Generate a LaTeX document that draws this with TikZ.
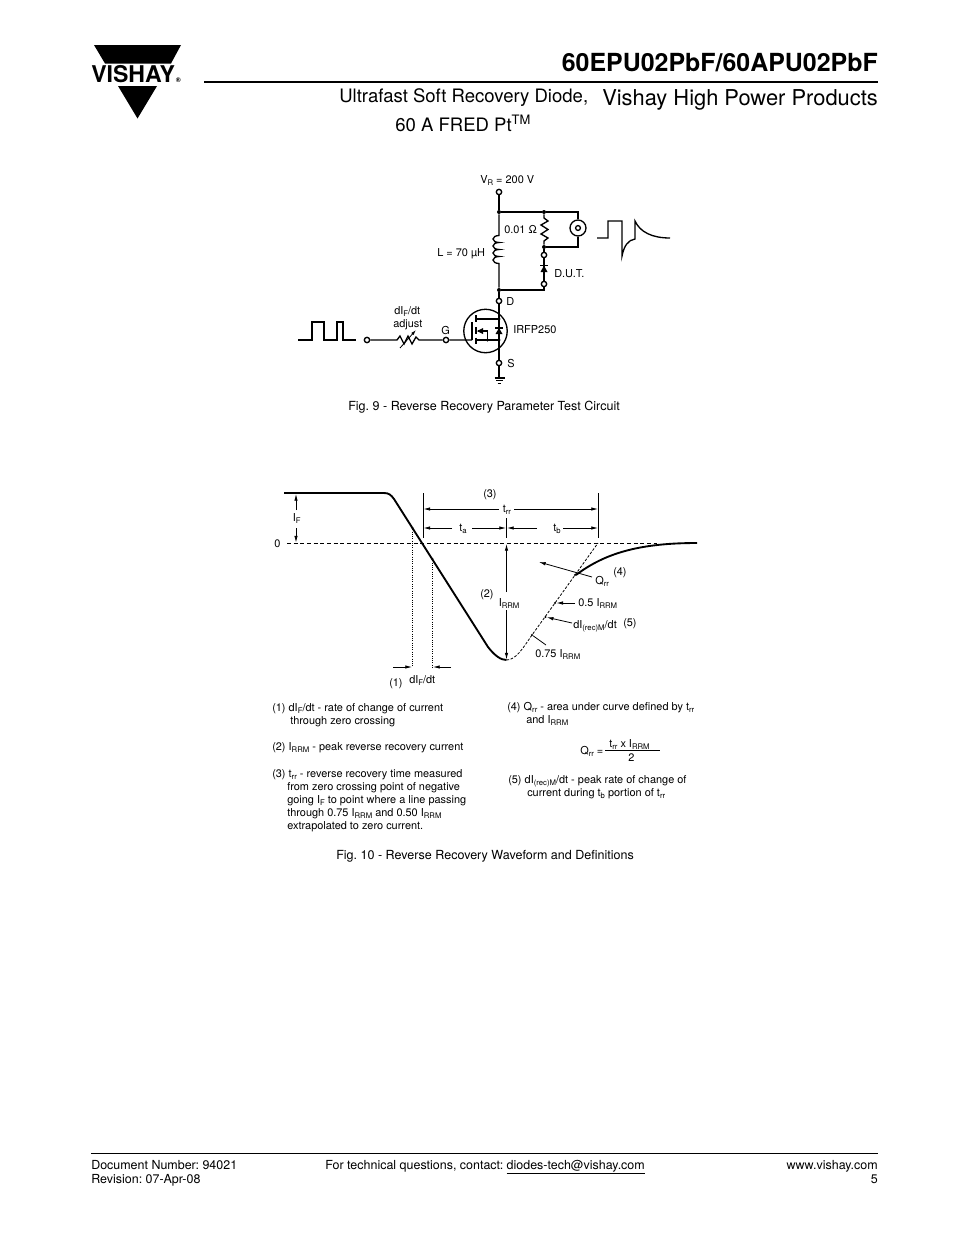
\documentclass[tikz,border=0pt]{standalone}
\usepackage{fontspec}
\setmainfont{TeX Gyre Heros}
\usetikzlibrary{arrows.meta, positioning, calc}

\newcommand{\sub}[1]{\raisebox{-1.7pt}{\fontsize{5.8}{6}\selectfont #1}}
\begin{document}
\frenchspacing
\begin{tikzpicture}[x=0.75pt, y=-0.75pt, font=\fontsize{8.2}{10}\selectfont]
        \tikzstyle{wire} = [line width = 1pt, black]
        \tikzstyle{pin} = [circle, draw = black, fill = white, line width = 1pt, inner sep = 0pt, minimum size = 4pt]
        \tikzstyle{joint} = [circle, fill = black, inner sep = 0pt, minimum size = 3pt]
        \tikzstyle{speck} = [circle, fill = black, inner sep = 0pt, minimum size = 1.6pt]
        \tikzstyle{txt} = [inner sep = 0pt, anchor = base west]
        \tikzstyle{rtxt} = [inner sep = 0pt, anchor = base east]
        \tikzstyle{caption} = [txt, font=\fontsize{9.4}{11}\selectfont]
        \tikzstyle{foot} = [inner sep = 0pt, font=\fontsize{9.35}{11}\selectfont]
        \tikzstyle{thin} = [line width = 0.6pt]
        \tikzstyle{fine dash} = [line width = 0.6pt, dash pattern = on 2pt off 1.2pt]
        \tikzstyle{connect} = [-{Latex[length=5pt, width=2.6pt]}, line width = 0.6pt]
        \useasboundingbox (0,0) rectangle (954,1235);

        % header
        \fill (94,45) -- (181,45) -- (171,63.5) -- (105,63.5) -- cycle;
        \fill (118,86) -- (157,86) -- (137.5,118.5) -- cycle;
        \node[txt, font=\fontsize{17.3}{15}\selectfont\bfseries] (logo) at (91,82) {VISHAY};
        \node[txt, font=\fontsize{5}{6}\selectfont\bfseries] (logoreg) at (175.5,82.5) {®};
        \draw[line width = 1.5pt] (204,81.5) -- (878,81.5);
        \node[rtxt, font=\fontsize{18.7}{20}\selectfont\bfseries] (title) at (878,71.5) {60EPU02PbF/60APU02PbF};
        \node[rtxt, font=\fontsize{16.4}{18}\selectfont] (brand) at (878,105) {Vishay High Power Products};
        \node[txt, font=\fontsize{13.9}{18}\selectfont] (head1) at (339,102) {Ultrafast Soft Recovery Diode,};
        \node[txt, font=\fontsize{13.9}{18}\selectfont] (head2) at (395,131) {60 A FRED Pt\textsuperscript{TM}};

        % test circuit
        \node[pin] (vr) at (499,192) {};
        \node[joint] (top) at (499,212) {};
        \node[joint] (rtop) at (544,212) {};
        \coordinate (scopetop) at (578,212);
        \node[circle, draw, line width = 1pt, minimum size = 12pt, inner sep = 0pt] (scope) at (578,228) {};
        \node[pin, minimum size = 3.6pt] (scopein) at (scope) {};
        \coordinate (scopebot) at (578,247);
        \node[joint] (rbot) at (544,247) {};
        \node[pin] (dut1) at (544,255) {};
        \node[pin] (dut2) at (544,284) {};
        \coordinate (dutbot) at (544,290);
        \node[joint] (bot) at (499,290) {};
        \node[pin] (d) at (499,301) {};
        \node[pin] (s) at (499,363) {};
        \node[pin] (g) at (446,340) {};
        \node[pin] (in) at (367,340) {};
        \coordinate (gnd) at (499,378);
        \draw[wire] (vr) -- (top) -- (rtop) -- (scopetop) -- (scope);
        \draw[wire] (scope) -- (scopebot) -- (rbot);
        \draw[wire] (rtop) -- (544,218) -- (548,221) -- (541,225) -- (548,229.5) -- (541,234) -- (548,238) -- (544,241) -- (rbot);
        \draw[wire] (rbot) -- (dut1) -- (dut2) -- (dutbot) -- (bot);
        \fill (544,265.5) -- (547.5,272) -- (540.5,272) -- cycle;
        \draw[wire] (540,265.5) -- (548,265.5);
        \draw[wire] (top) -- (499,235.5) arc (-90:-270:6 and 3.5) arc (-90:-270:6 and 3.5) arc (-90:-270:6 and 3.5) arc (-90:-270:6 and 3.5) -- (bot);
        \draw[wire] (bot) -- (d) -- (s) -- (gnd);
        \draw[wire] (494.5,378) -- (504.5,378) (496,380.7) -- (503,380.7) (497.5,383.3) -- (501,383.3);
        \draw[wire] (in) -- (397,340) -- (400,336) -- (404,344) -- (408,336) -- (412,344) -- (416,337) -- (419,340) -- (g) -- (472,340);
        \draw[-{Latex[length=4pt, width=2.4pt]}, line width = 0.6pt] (400,348) -- (416,330);

        % mosfet
        \node[circle, draw, line width = 1pt, minimum size = 32.6pt, inner sep = 0pt] (fet) at (485.5,331) {};
        \draw[wire] (472,340) -- (472,322);
        \draw[wire] (476,315) -- (476,322) (476,327) -- (476,334) (476,337.5) -- (476,343.5);
        \draw[wire] (476,319) -- (499,319) (476,340) -- (499,340) (478,331) -- (487.5,331) -- (487.5,340);
        \fill (477,331) -- (483,328) -- (483,334) -- cycle;
        \fill (499,328) -- (495.5,334) -- (502.5,334) -- cycle;
        \draw[wire] (495,328) -- (503,328);
        \node[speck, minimum size = 2.6pt] (fetd) at (499,319) {};
        \node[speck, minimum size = 2.6pt] (fets) at (499,340) {};
        \node[speck, minimum size = 2.6pt] (fetb) at (487.5,340) {};

        % waveforms
        \draw[wire] (298,340) -- (312,340) -- (312,322) -- (324,322) -- (324,340) -- (337,340) -- (337,322) -- (343,322) -- (343,340) -- (356,340);
        \draw[wire] (597,238) -- (608,238) -- (608,221) -- (622,221) -- (622,256) .. controls (624,246) and (628,240) .. (635,239) -- (635,221) .. controls (640,232) and (652,238) .. (670,238);

        % circuit labels
        \node[txt] (lvr) at (480,183) {V\sub{R} = 200 V};
        \node[txt] (lr) at (504,233) {0.01 Ω};
        \node[txt] (ll) at (437,256) {L = 70 µH};
        \node[txt] (ldut) at (554,277) {D.U.T.};
        \node[txt] (ld) at (506,305) {D};
        \node[txt] (lg) at (441,334) {G};
        \node[txt] (lfet) at (513,333) {IRFP250};
        \node[txt] (ls) at (507,367) {S};
        \node[txt] (ldif) at (394,314) {dI\sub{F}/dt};
        \node[txt] (ladj) at (393,327) {adjust};
        \node[caption] (fig9) at (348,410) {Fig. 9 - Reverse Recovery Parameter Test Circuit};

        % recovery waveform
        \draw[line width = 1.4pt] (284,493) -- (384,493) .. controls (389,493) and (391,495) .. (394,499) -- (488,647) .. controls (495,656) and (501,660) .. (506.5,660);
        \draw[fine dash] (506.5,660) .. controls (516,660) and (523,648) .. (532,635) -- (555,603) -- (598,543);
        \draw[line width = 1.4pt] (576,575) .. controls (605,553) and (640,543) .. (697,543);
        \draw[thin, densely dashed] (287,543) -- (657,543);
        \node[speck] (q1) at (412.5,528) {};
        \node[speck] (q2) at (432.5,559) {};
        \coordinate (q1b) at (412.5,667);
        \coordinate (q2b) at (432.5,667);
        \draw[densely dotted, line width = 0.7pt] (q1) -- (q1b);
        \draw[densely dotted, line width = 0.7pt] (q2) -- (q2b);
        \coordinate (t0) at (423,493);
        \coordinate (t1) at (598.5,493);
        \coordinate (t0b) at (423,538);
        \coordinate (t1b) at (598.5,538);
        \coordinate (tm) at (506.5,518);
        \coordinate (tmb) at (506.5,538);
        \draw[thin] (t0) -- (t0b);
        \draw[thin] (t1) -- (t1b);
        \draw[thin] (tm) -- (tmb);

        % dimension arrows
        \draw[connect] (296,510) -- (296,494);
        \draw[connect] (296,528) -- (296,542.5);
        \draw[connect] (499,509) -- (423.5,509);
        \draw[connect] (514,509) -- (598,509);
        \draw[connect] (452,528) -- (423.5,528);
        \draw[connect] (472,528) -- (506,528);
        \draw[connect] (537,528) -- (507,528);
        \draw[connect] (563,528) -- (598,528);
        \draw[connect] (506.5,592) -- (506.5,544);
        \draw[connect] (506.5,610) -- (506.5,659.5);
        \draw[connect] (393,667) -- (412,667);
        \draw[connect] (451,667) -- (433,667);
        \node[speck] (pq) at (575,575) {};
        \node[speck] (p5) at (555,603) {};
        \node[speck] (pm) at (545.5,617) {};
        \node[speck] (p7) at (532,635) {};
        \coordinate (qtip) at (539,562);
        \coordinate (qend) at (592,577);
        \coordinate (fiveend) at (575,603);
        \coordinate (mend) at (572,623);
        \coordinate (sevenend) at (546,645);
        \draw[connect] (qend) -- (qtip);
        \draw[connect] (fiveend) -- (p5);
        \draw[connect] (mend) -- (pm);
        \draw[thin] (sevenend) -- (p7);

        % recovery labels
        \node[txt] (zero) at (274,547) {0};
        \node[txt] (lif) at (292.5,521) {I\sub{F}};
        \node[txt] (n3) at (483,497) {(3)};
        \node[txt] (ltrr) at (502.5,512) {t\sub{rr}};
        \node[txt] (lta) at (459,531) {t\sub{a}};
        \node[txt] (ltb) at (553,531) {t\sub{b}};
        \node[txt] (n2) at (480,597) {(2)};
        \node[txt] (lirrm) at (498.5,606) {I\sub{RRM}};
        \node[txt] (lqrr) at (595,584) {Q\sub{rr}};
        \node[txt] (n4) at (613,575) {(4)};
        \node[txt] (l05) at (578,606) {0.5 I\sub{RRM}};
        \node[txt] (ldi) at (573,628) {dI\sub{(rec)M}/dt};
        \node[txt] (n5) at (623,626) {(5)};
        \node[txt] (l075) at (535,657) {0.75 I\sub{RRM}};
        \node[txt] (n1) at (389,686) {(1)};
        \node[txt] (ldif2) at (409,683) {dI\sub{F}/dt};

        % definitions
        \node[txt] (d1a) at (272,711) {(1) dI\sub{F}/dt - rate of change of current};
        \node[txt] (d1b) at (290,724) {through zero crossing};
        \node[txt] (d2) at (272,750) {(2) I\sub{RRM} - peak reverse recovery current};
        \node[txt] (d3a) at (272,777) {(3) t\sub{rr} - reverse recovery time measured};
        \node[txt] (d3b) at (287,790) {from zero crossing point of negative};
        \node[txt] (d3c) at (287,803) {going I\sub{F} to point where a line passing};
        \node[txt] (d3d) at (287,816) {through 0.75 I\sub{RRM} and 0.50 I\sub{RRM}};
        \node[txt] (d3e) at (287,829) {extrapolated to zero current.};
        \node[txt] (d4a) at (507,710) {(4) Q\sub{rr} - area under curve defined by t\sub{rr}};
        \node[txt] (d4b) at (526,723) {and I\sub{RRM}};
        \node[txt] (eql) at (580,754) {Q\sub{rr} =};
        \node[txt] (eqn) at (609,747) {t\sub{rr} x I\sub{RRM}};
        \draw[thin] (605,750) -- (660,750);
        \node[txt] (eqd) at (628,761) {2};
        \node[txt] (d5a) at (508,783) {(5) dI\sub{(rec)M}/dt - peak rate of change of};
        \node[txt] (d5b) at (527,796) {current during t\sub{b} portion of t\sub{rr}};
        \node[caption] (fig10) at (336,859) {Fig. 10 - Reverse Recovery Waveform and Definitions};

        % footer
        \draw[line width = 0.7pt] (91,1153) -- (878,1153);
        \node[foot, anchor = base west] (docnr) at (91,1169) {Document Number: 94021};
        \node[foot, anchor = base west] (rev) at (91,1183) {Revision: 07-Apr-08};
        \node[foot, anchor = base west] (contact) at (325,1169) {For technical questions, contact: \underline{diodes-tech@vishay.com}};
        \node[foot, anchor = base east] (web) at (878,1169) {www.vishay.com};
        \node[foot, anchor = base east] (page) at (878,1183) {5};
      \end{tikzpicture}
\end{document}
